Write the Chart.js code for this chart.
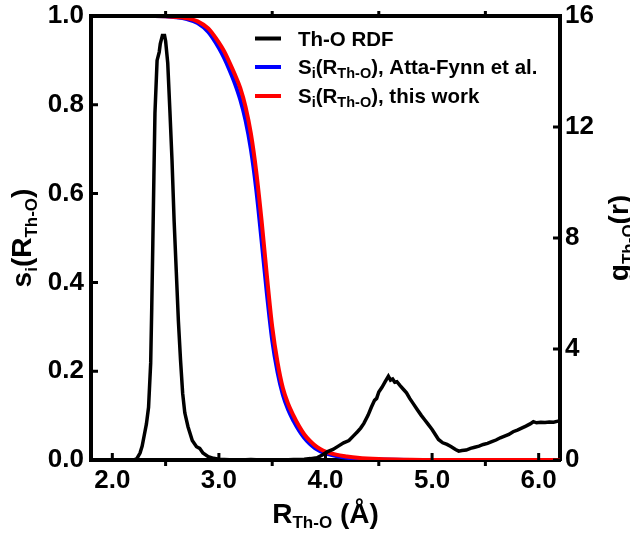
<!DOCTYPE html>
<html>
<head>
<meta charset="utf-8">
<script src="https://cdn.jsdelivr.net/npm/chart.js@4.4.0/dist/chart.umd.min.js"></script>
<style>
  body { margin: 0; background: #fff; }
  canvas { display: block; }
</style>
</head>
<body>
<canvas id="myChart" width="630" height="536"></canvas>
<script>
// tick values / labels
const xTicks = [2, 3, 4, 5, 6]
const xTickLabels = ['2.0', '3.0', '4.0', '5.0', '6.0']
const xMinor = [2.5, 3.5, 4.5, 5.5]
const leftTicks = [0, 0.2, 0.4, 0.6, 0.8, 1.0]
const leftTickLabels = ['0.0', '0.2', '0.4', '0.6', '0.8', '1.0']
const rightTicks = [0, 4, 8, 12, 16]
const rightTickLabels = ['0', '4', '8', '12', '16']

// Th-O RDF g(r), right axis
const rdfR = [1.80, 2.20, 2.23, 2.26, 2.28, 2.30, 2.32, 2.34, 2.36, 2.37, 2.38, 2.39, 2.40, 2.42, 2.44, 2.45, 2.47, 2.49, 2.50, 2.52, 2.54, 2.56, 2.58, 2.60, 2.62, 2.64, 2.66, 2.68, 2.71, 2.75, 2.79, 2.82, 2.85, 2.90, 2.95, 3.00,
  3.10, 3.20, 3.30, 3.40, 3.50, 3.60, 3.70, 3.80, 3.86, 3.92, 3.97, 4.02, 4.07, 4.12, 4.17, 4.22, 4.26, 4.30, 4.33, 4.36, 4.40, 4.43, 4.46, 4.48, 4.50, 4.53, 4.56, 4.59, 4.61, 4.63, 4.65, 4.67, 4.70, 4.73, 4.76, 4.79, 4.82, 4.86, 4.90, 4.93, 4.96,
  5.00, 5.03, 5.06, 5.10, 5.14, 5.18, 5.22, 5.25, 5.28, 5.32, 5.36, 5.40, 5.44, 5.48, 5.52, 5.56, 5.60, 5.64, 5.68, 5.72, 5.76, 5.80, 5.84, 5.88, 5.92, 5.95, 5.98, 6.02, 6.06, 6.10, 6.14, 6.18, 6.22]
const rdfG = [0, 0, 0.05, 0.25, 0.5, 0.9, 1.3, 1.9, 3.5, 5.5, 7.8, 10.2, 12.5, 14.4, 14.7, 15.0, 15.3, 15.3, 15.1, 14.3, 12.6, 10.8, 8.6, 6.8, 5.0, 3.6, 2.4, 1.7, 1.2, 0.7, 0.48, 0.42, 0.25, 0.12, 0.06, 0.03,
  0.01, 0.0, 0.02, 0.0, 0.01, 0.0, 0.02, 0.03, 0.05, 0.08, 0.18, 0.30, 0.38, 0.50, 0.62, 0.70, 0.86, 1.02, 1.15, 1.32, 1.62, 1.90, 2.15, 2.22, 2.45, 2.62, 2.82, 3.02, 2.88, 2.92, 2.80, 2.82, 2.68, 2.55, 2.42, 2.22, 2.05, 1.82, 1.60, 1.45, 1.30,
  1.10, 0.92, 0.74, 0.62, 0.56, 0.48, 0.38, 0.32, 0.34, 0.36, 0.42, 0.46, 0.50, 0.56, 0.60, 0.66, 0.72, 0.80, 0.86, 0.92, 1.02, 1.08, 1.15, 1.22, 1.30, 1.38, 1.34, 1.36, 1.35, 1.37, 1.36, 1.40, 1.45]

// switching functions, left axis
const sR = [1.80, 2.40, 2.60, 2.70, 2.80, 2.90, 3.00, 3.05, 3.10, 3.15, 3.20, 3.25, 3.30, 3.35, 3.40, 3.45, 3.50, 3.55, 3.60, 3.65, 3.70, 3.75, 3.80, 3.85, 3.90, 3.95, 4.00, 4.10, 4.20, 4.30, 4.50, 4.80, 5.00, 6.20]
const sAtta = [1.0, 1.0, 0.997, 0.993, 0.984, 0.964, 0.928, 0.905, 0.878, 0.848, 0.812, 0.765, 0.700, 0.610, 0.495, 0.375, 0.270, 0.198, 0.147, 0.113, 0.088, 0.067, 0.050, 0.037, 0.027, 0.020, 0.015, 0.009, 0.005, 0.003, 0.001, 0.0, 0.0, 0.0]
const sThis = [1.0, 1.0, 0.998, 0.995, 0.988, 0.972, 0.940, 0.920, 0.895, 0.868, 0.838, 0.795, 0.735, 0.650, 0.540, 0.415, 0.300, 0.220, 0.162, 0.126, 0.100, 0.077, 0.058, 0.044, 0.033, 0.025, 0.019, 0.012, 0.008, 0.005, 0.002, 0.0005, 0.0, 0.0]

const fam = '"Liberation Sans", Arial, Helvetica, sans-serif'
const tickFont = { family: fam, size: 26, weight: 'bold' }

function pts(xs, ys) {
  return xs.map((x, i) => ({ x: x, y: ys[i] }))
}

// draw text with subscripts, parts = [text, size, dy]
function richWidth(ctx, parts) {
  let w = 0
  parts.forEach(p => {
    ctx.font = 'bold ' + p[1] + 'px ' + fam
    w += ctx.measureText(p[0]).width
  })
  return w
}
function drawRich(ctx, parts, x, y) {
  parts.forEach(p => {
    ctx.font = 'bold ' + p[1] + 'px ' + fam
    ctx.fillText(p[0], x, y + (p[2] || 0))
    x += ctx.measureText(p[0]).width
  })
}

// fixed axis sizes, no label overflow padding
function fixSize(w, h) {
  return s => {
    if (w) s.width = w
    if (h) s.height = h
    s.paddingTop = 0; s.paddingBottom = 0
    s.paddingLeft = 0; s.paddingRight = 0
  }
}

const extras = {
  id: 'extras',
  afterDraw(chart) {
    const ctx = chart.ctx
    const a = chart.chartArea
    const xs = chart.scales.x, yl = chart.scales.y, yr = chart.scales.y1
    ctx.save()
    ctx.strokeStyle = '#000'
    ctx.fillStyle = '#000'

    // top frame line
    ctx.lineWidth = 4
    ctx.beginPath()
    ctx.moveTo(a.left - 2, a.top)
    ctx.lineTo(a.right + 2, a.top)
    ctx.stroke()

    // tick marks
    ctx.lineWidth = 3
    ctx.beginPath()
    xTicks.forEach(v => {
      const px = xs.getPixelForValue(v)
      ctx.moveTo(px, a.bottom); ctx.lineTo(px, a.bottom - 7)
    })
    xMinor.forEach(v => {
      const px = xs.getPixelForValue(v)
      ctx.moveTo(px, a.bottom); ctx.lineTo(px, a.bottom + 6)
      ctx.moveTo(px, a.top); ctx.lineTo(px, a.top - 5)
    })
    leftTicks.forEach(v => {
      const py = yl.getPixelForValue(v)
      ctx.moveTo(a.left, py); ctx.lineTo(a.left + 7, py)
    })
    rightTicks.forEach(v => {
      const py = yr.getPixelForValue(v)
      ctx.moveTo(a.right, py); ctx.lineTo(a.right - 7, py)
    })
    ctx.stroke()

    // axis titles
    ctx.textBaseline = 'alphabetic'
    ctx.textAlign = 'left'
    const cx = (a.left + a.right) / 2
    const cy = (a.top + a.bottom) / 2

    const xt = [['R', 28], ['Th-O', 17, 5], [' (Å)', 28]]
    drawRich(ctx, xt, cx - richWidth(ctx, xt) / 2, 523)

    const lt = [['s', 28], ['i', 17, 6], ['(R', 28], ['Th-O', 17, 6], [')', 28]]
    ctx.save()
    ctx.translate(31, cy)
    ctx.rotate(-Math.PI / 2)
    drawRich(ctx, lt, -richWidth(ctx, lt) / 2, 0)
    ctx.restore()

    const rt = [['g', 28], ['Th-O', 17, 6], ['(r)', 28]]
    ctx.save()
    ctx.translate(628, cy)
    ctx.rotate(-Math.PI / 2)
    drawRich(ctx, rt, -richWidth(ctx, rt) / 2, 0)
    ctx.restore()

    // legend
    const rows = [
      { color: '#000000', y: 38.5, parts: [['Th-O RDF', 20.5]] },
      { color: '#0000ff', y: 67, parts: [['S', 20.5], ['i', 14.5, 3.5], ['(R', 20.5], ['Th-O', 14.5, 3.5], ['), Atta-Fynn et al.', 20.5]] },
      { color: '#ff0000', y: 96, parts: [['S', 20.5], ['i', 14.5, 3.5], ['(R', 20.5], ['Th-O', 14.5, 3.5], ['), this work', 20.5]] }
    ]
    rows.forEach(r => {
      ctx.strokeStyle = r.color
      ctx.lineWidth = 4
      ctx.beginPath()
      ctx.moveTo(255, r.y); ctx.lineTo(281, r.y)
      ctx.stroke()
      ctx.fillStyle = '#000'
      drawRich(ctx, r.parts, 298, r.y + 7)
    })
    ctx.restore()
  }
}

const ctx = document.getElementById('myChart')

new Chart(ctx, {
  type: 'line',
  data: {
    datasets: [
      {
        label: 'Th-O RDF',
        data: pts(rdfR, rdfG),
        yAxisID: 'y1',
        borderColor: '#000000',
        borderWidth: 3.5,
        pointRadius: 0,
        tension: 0
      },
      {
        label: 'Si(RTh-O), this work',
        data: pts(sR, sThis),
        yAxisID: 'y',
        borderColor: '#ff0000',
        borderWidth: 4,
        pointRadius: 0,
        cubicInterpolationMode: 'monotone'
      },
      {
        label: 'Si(RTh-O), Atta-Fynn et al.',
        data: pts(sR, sAtta),
        yAxisID: 'y',
        borderColor: '#0000ff',
        borderWidth: 4,
        pointRadius: 0,
        cubicInterpolationMode: 'monotone'
      }
    ]
  },
  options: {
    responsive: false,
    animation: false,
    layout: { padding: { top: 16, left: 0, right: 0, bottom: 0 } },
    plugins: {
      legend: { display: false },
      tooltip: { enabled: false }
    },
    scales: {
      x: {
        type: 'linear',
        min: 1.8,
        max: 6.2,
        afterBuildTicks: s => { s.ticks = xTicks.map(v => ({ value: v })) },
        afterFit: fixSize(0, 76),
        ticks: {
          font: tickFont,
          color: '#000',
          padding: 5,
          maxRotation: 0,
          autoSkip: false,
          callback: (v) => xTickLabels[xTicks.indexOf(v)]
        },
        grid: { display: false, drawTicks: false },
        border: { display: true, width: 4, color: '#000' }
      },
      y: {
        position: 'left',
        min: 0,
        max: 1,
        afterBuildTicks: s => { s.ticks = leftTicks.map(v => ({ value: v })) },
        afterFit: fixSize(91, 0),
        ticks: {
          font: tickFont,
          color: '#000',
          padding: 7,
          callback: (v) => leftTickLabels[leftTicks.indexOf(v)]
        },
        grid: { display: false, drawTicks: false },
        border: { display: true, width: 4, color: '#000' }
      },
      y1: {
        position: 'right',
        min: 0,
        max: 16,
        afterBuildTicks: s => { s.ticks = rightTicks.map(v => ({ value: v })) },
        afterFit: fixSize(70, 0),
        ticks: {
          font: tickFont,
          color: '#000',
          padding: 5,
          callback: (v) => rightTickLabels[rightTicks.indexOf(v)]
        },
        grid: { display: false, drawTicks: false },
        border: { display: true, width: 4, color: '#000' }
      }
    }
  },
  plugins: [extras]
});
</script>
</body>
</html>
